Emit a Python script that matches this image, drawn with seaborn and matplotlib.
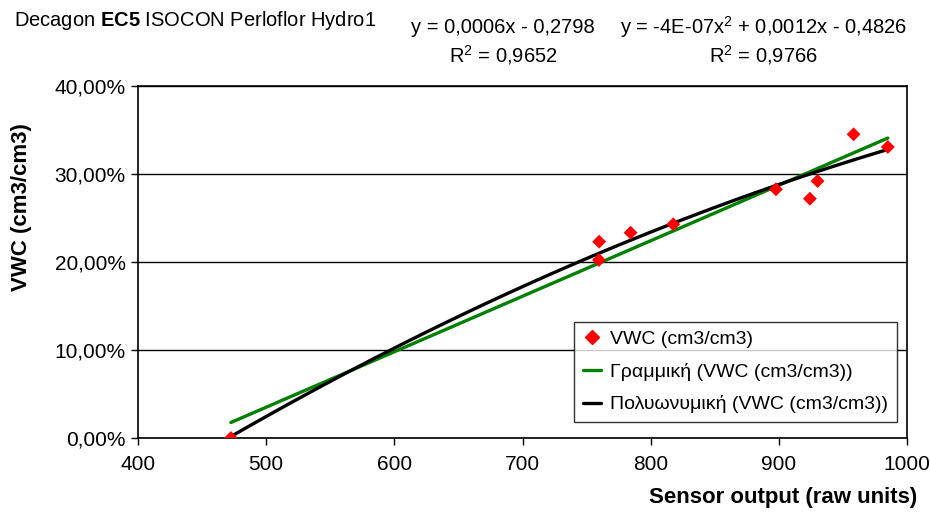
import numpy as np
import pandas as pd
import matplotlib.pyplot as plt
import seaborn as sns
from matplotlib.ticker import FuncFormatter
from matplotlib.lines import Line2D

sns.set_style('white')
plt.rcParams['font.family'] = ['Liberation Sans', 'DejaVu Sans']
plt.rcParams['mathtext.fontset'] = 'custom'
plt.rcParams['mathtext.rm'] = 'Liberation Sans'
plt.rcParams['mathtext.bf'] = 'Liberation Sans:bold'
plt.rcParams['text.color'] = 'black'
plt.rcParams['axes.labelcolor'] = 'black'
plt.rcParams['xtick.color'] = 'black'
plt.rcParams['ytick.color'] = 'black'

# sensor readings vs measured VWC
sensor = [472.5, 759.8, 759.6, 784.3, 817.6, 897.7, 924.2, 930.2, 958.3, 985.0]
vwc = [0.0, 0.2231, 0.2023, 0.2333, 0.2428, 0.2826, 0.2719, 0.2920, 0.3451, 0.3307]

title = r'Decagon $\bf{EC5}$ ISOCON Perloflor Hydro1'
lin_eq = 'y = 0,0006x - 0,2798'
lin_r2 = r'R$^2$ = 0,9652'
poly_eq = r'y = -4E-07x$^2$ + 0,0012x - 0,4826'
poly_r2 = r'R$^2$ = 0,9766'

df = pd.DataFrame({'sensor': sensor, 'vwc': vwc})

fig = plt.figure(figsize=(9.3, 5.13), dpi=100)
ax = fig.add_axes([0.1484, 0.1462, 0.8269, 0.6862])

sns.regplot(data=df, x='sensor', y='vwc', ax=ax, scatter=False, ci=None,
            line_kws={'color': '#008000', 'lw': 2.4})
sns.regplot(data=df, x='sensor', y='vwc', ax=ax, scatter=False, ci=None, order=2,
            line_kws={'color': 'black', 'lw': 2.4})
sns.scatterplot(data=df, x='sensor', y='vwc', ax=ax, marker='D', color='#ff0000',
                s=50, edgecolor='none', zorder=5)

ax.set_xlim(400, 1000)
ax.set_ylim(0, 0.4)
ax.set_xticks(range(400, 1001, 100))
ax.set_yticks([0, 0.1, 0.2, 0.3, 0.4])
ax.yaxis.set_major_formatter(FuncFormatter(lambda v, p: f'{v*100:.2f}%'.replace('.', ',')))
ax.grid(axis='y', color='black', lw=1)
ax.set_axisbelow(True)
for s in ax.spines.values():
    s.set_color('black')
    s.set_linewidth(1.2)
ax.tick_params(axis='both', direction='out', length=5, width=1, color='black',
               labelsize=15, bottom=True, left=True)
ax.tick_params(axis='y', pad=4)
ax.tick_params(axis='x', pad=7)
ax.set_xlabel('Sensor output (raw units)', fontsize=16, fontweight='bold', ha='right', va='center')
ax.xaxis.set_label_coords(1.013, -0.168)
ax.set_ylabel('VWC (cm3/cm3)', fontsize=16, fontweight='bold', va='center')
ax.yaxis.set_label_coords(-0.151, 0.656)

handles = [
    Line2D([], [], marker='D', color='#ff0000', ls='none', markersize=7),
    Line2D([], [], color='#008000', lw=2.4),
    Line2D([], [], color='black', lw=2.4),
]
labels = ['VWC (cm3/cm3)', 'Γραμμική (VWC (cm3/cm3))', 'Πολυωνυμική (VWC (cm3/cm3))']
leg = ax.legend(handles, labels, loc='lower right', bbox_to_anchor=(0.987, 0.045),
                fontsize=14, frameon=True, fancybox=False, handlelength=0.9,
                handletextpad=0.5, borderpad=0.45, labelspacing=0.75,
                borderaxespad=0)
leg.get_frame().set_edgecolor('black')
leg.get_frame().set_linewidth(1)

fig.text(0.015, 0.961, title, fontsize=14.5, va='center', ha='left')
fig.text(0.541, 0.947, lin_eq, fontsize=14.5, ha='center', va='center')
fig.text(0.541, 0.893, lin_r2, fontsize=14.5, ha='center', va='center')
fig.text(0.821, 0.947, poly_eq, fontsize=14.5, ha='center', va='center')
fig.text(0.821, 0.893, poly_r2, fontsize=14.5, ha='center', va='center')

fig.savefig('out.png', dpi=100)
